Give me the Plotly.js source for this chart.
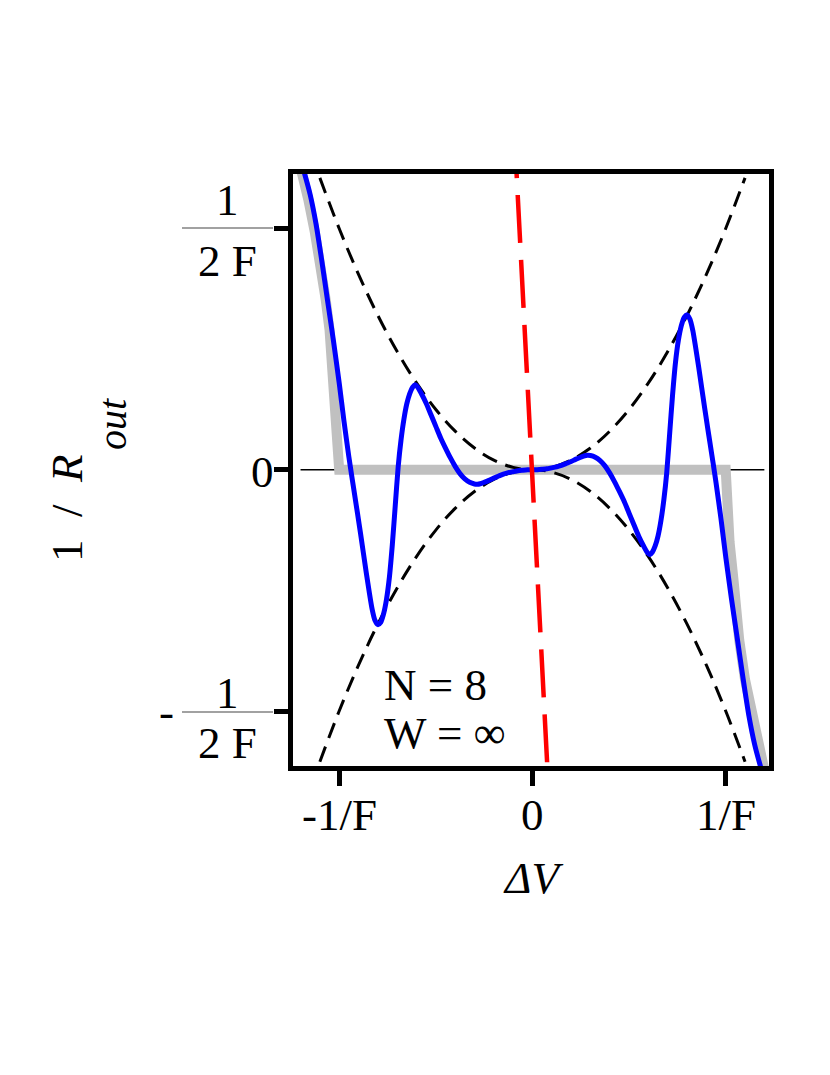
<!DOCTYPE html>
<html>
<head>
<meta charset="utf-8">
<script src="https://cdn.plot.ly/plotly-3.0.1.min.js"></script>
<style>html,body{margin:0;padding:0;background:#fff;}#chart{width:830px;height:1075px;}</style>
</head>
<body>
<div id="chart"></div>
<script>
// ---- data ----
var blueX = [-1.21,-1.18,-1.15,-1.12,-1.09,-1.06,-1.03,-1.0,-0.975,-0.95,-0.935,-0.92,-0.905,-0.89,-0.875,-0.86,-0.845,-0.83,-0.815,-0.80,-0.785,-0.77,-0.755,-0.74,-0.725,-0.71,-0.695,-0.68,-0.665,-0.65,-0.635,-0.62,-0.607,-0.595,-0.575,-0.55,-0.525,-0.50,-0.475,-0.45,-0.425,-0.40,-0.375,-0.35,-0.325,-0.30,-0.285,-0.27,-0.25,-0.225,-0.20,-0.175,-0.15,-0.125,-0.10,-0.075,-0.05,-0.025,
             0,0.025,0.05,0.075,0.10,0.125,0.15,0.175,0.20,0.225,0.25,0.27,0.285,0.30,0.325,0.35,0.375,0.40,0.425,0.45,0.475,0.50,0.525,0.55,0.575,0.595,0.607,0.62,0.635,0.65,0.665,0.68,0.695,0.71,0.725,0.74,0.755,0.77,0.785,0.80,0.815,0.83,0.845,0.86,0.875,0.89,0.905,0.92,0.935,0.95,0.975,1.0,1.03,1.06,1.09,1.12,1.15,1.18,1.21];
var blueY = [0.655,0.615,0.570,0.510,0.433,0.350,0.268,0.180,0.100,0.027,-0.013,-0.052,-0.091,-0.131,-0.172,-0.213,-0.252,-0.288,-0.312,-0.321,-0.316,-0.298,-0.268,-0.222,-0.155,-0.075,0.005,0.062,0.105,0.137,0.158,0.171,0.176,0.172,0.158,0.138,0.114,0.090,0.066,0.045,0.025,0.007,-0.008,-0.019,-0.026,-0.0295,-0.030,-0.029,-0.026,-0.022,-0.017,-0.013,-0.009,-0.006,-0.004,-0.002,-0.001,-0.0002,
             0,0.0002,0.001,0.002,0.004,0.006,0.009,0.013,0.017,0.022,0.026,0.029,0.030,0.0295,0.026,0.019,0.008,-0.007,-0.025,-0.045,-0.066,-0.090,-0.114,-0.138,-0.158,-0.172,-0.176,-0.171,-0.158,-0.137,-0.105,-0.062,-0.005,0.075,0.155,0.222,0.268,0.298,0.316,0.321,0.312,0.288,0.252,0.213,0.172,0.131,0.091,0.052,0.013,-0.027,-0.100,-0.180,-0.268,-0.350,-0.433,-0.510,-0.570,-0.615,-0.655];

var greyX = [-1.22,-1.185,-1.16,-1.125,-1.10,-1.07,-1.05,-1.04,-1.02,-1.012,-1.005,-1.0,1.0,1.005,1.012,1.02,1.04,1.05,1.07,1.10,1.125,1.16,1.185,1.22];
var greyY = [0.66,0.61,0.56,0.49,0.435,0.353,0.29,0.227,0.15,0.10,0.05,0,0,-0.05,-0.10,-0.15,-0.227,-0.29,-0.353,-0.435,-0.49,-0.56,-0.61,-0.66];

var paraX  = [-1.1,-1.0,-0.9,-0.8,-0.7,-0.6,-0.5,-0.4,-0.3,-0.2,-0.1,0,0.1,0.2,0.3,0.4,0.5,0.6,0.7,0.8,0.9,1.0,1.1];
var upperY = [0.605,0.5,0.405,0.32,0.245,0.18,0.125,0.08,0.045,0.02,0.005,0,0.005,0.02,0.045,0.08,0.125,0.18,0.245,0.32,0.405,0.5,0.605];
var lowerY = [-0.605,-0.5,-0.405,-0.32,-0.245,-0.18,-0.125,-0.08,-0.045,-0.02,-0.005,0,-0.005,-0.02,-0.045,-0.08,-0.125,-0.18,-0.245,-0.32,-0.405,-0.5,-0.605];

var redX = [-0.0937, 0.076];
var redY = [0.704, -0.608];

var zeroX = [-1.2, 1.2];
var zeroY = [0, 0];

var xTickVals = [-1, 0, 1];
var xTickText = ['-1/F', '0', '1/F'];
var yTickVals = [-0.5, 0, 0.5];

// ---- layout helpers (pixel -> paper) ----
var L = 293, R = 769, T = 174, B = 766;
function px(x){ return (x - L) / (R - L); }
function py(y){ return (B - y) / (B - T); }

var FONT = "'Liberation Serif', 'Times New Roman', Times, serif";

var traces = [
  {x: zeroX, y: zeroY, mode: 'lines', line: {color: '#000', width: 1.3}, hoverinfo: 'skip'},
  {x: greyX, y: greyY, mode: 'lines', line: {color: '#c0c0c0', width: 10}, hoverinfo: 'skip'},
  {x: paraX, y: upperY, mode: 'lines', line: {color: '#000', width: 3, dash: '16px,9px', shape: 'spline'}, hoverinfo: 'skip'},
  {x: paraX, y: lowerY, mode: 'lines', line: {color: '#000', width: 3, dash: '16px,9px', shape: 'spline'}, hoverinfo: 'skip'},
  {x: blueX, y: blueY, mode: 'lines', line: {color: '#0000ff', width: 5, shape: 'spline', smoothing: 0.6}, hoverinfo: 'skip'},
  {x: redX, y: redY, mode: 'lines', line: {color: '#ff0000', width: 4.5, dash: '48px,17px'}, hoverinfo: 'skip'}
];

function ann(text, x, y, opts){
  var a = {text: text, x: px(x), y: py(y), xref: 'paper', yref: 'paper', showarrow: false,
           xanchor: 'center', yanchor: 'middle', font: {family: FONT, size: 45, color: '#000'}};
  for (var k in opts) a[k] = opts[k];
  return a;
}

var annotations = [
  ann('1', 227, 200), ann('2 F', 227, 261),
  ann('0', 262, 472),
  ann('1', 227, 693), ann('2 F', 227, 743),
  ann('-', 166, 712),
  ann(xTickText[0], 339, 815), ann(xTickText[1], 532, 815), ann(xTickText[2], 726, 815),
  ann('N = 8', 382, 685, {xanchor: 'left'}),
  ann('W = \u221E', 382, 733, {xanchor: 'left'}),
  ann('<i>\u0394V</i>', 533, 878),
  ann('1&nbsp;&nbsp;/&nbsp;&nbsp;<i>R</i>', 67, 508, {textangle: -90}),
  ann('<i>out</i>', 112, 424, {textangle: -90, font: {family: FONT, size: 40, color: '#000'}})
];

var shapes = [
  {type: 'line', xref: 'paper', yref: 'paper', x0: px(182), x1: px(273), y0: py(228), y1: py(228), line: {color: '#444', width: 1.2}},
  {type: 'line', xref: 'paper', yref: 'paper', x0: px(182), x1: px(273), y0: py(712), y1: py(712), line: {color: '#444', width: 1.2}}
];

var layout = {
  width: 830, height: 1075,
  margin: {l: L, r: 830 - R, t: T, b: 1075 - B, pad: 0},
  paper_bgcolor: '#fff', plot_bgcolor: '#fff',
  showlegend: false,
  xaxis: {range: [-1.239, 1.224], showgrid: false, zeroline: false,
          showline: true, linecolor: '#000', linewidth: 5, mirror: true,
          ticks: 'outside', ticklen: 15, tickwidth: 5, tickcolor: '#000',
          tickvals: xTickVals, showticklabels: false},
  yaxis: {range: [-0.614, 0.613], showgrid: false, zeroline: false,
          showline: true, linecolor: '#000', linewidth: 5, mirror: true,
          ticks: 'outside', ticklen: 14, tickwidth: 5, tickcolor: '#000',
          tickvals: yTickVals, showticklabels: false},
  annotations: annotations,
  shapes: shapes
};

Plotly.newPlot('chart', traces, layout, {staticPlot: true, displayModeBar: false});
</script>
</body>
</html>
